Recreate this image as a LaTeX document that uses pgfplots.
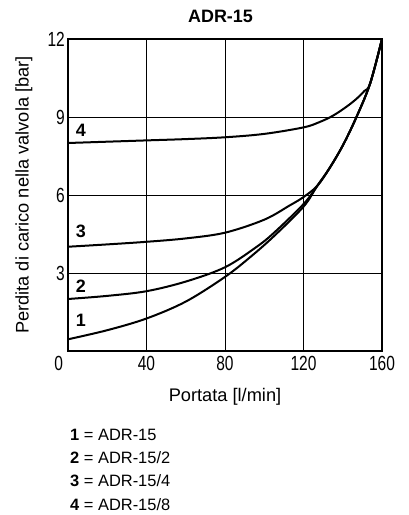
\documentclass[border=0pt]{standalone}
\usepackage{fontspec}
\setmainfont{Liberation Sans}
\newfontfamily\tickfont[FakeStretch=0.76]{Liberation Sans}
\newcommand\tk[1]{{\tickfont\fontsize{20.5}{20.5}\selectfont #1}}
\usepackage{pgfplots}
\pgfplotsset{compat=1.18}
\begin{document}
\begin{tikzpicture}
\begin{axis}[
  name=ax,
  scale only axis,
  width=314bp, height=312bp,
  xmin=0, xmax=160, ymin=0, ymax=12,
  xtick={0,40,80,120,160},
  xticklabels={\makebox[0pt][r]{\tk{0}\hspace*{5bp}},\tk{40},\tk{80},\tk{120},\tk{160}},
  ytick={3,6,9,12},
  yticklabels={\tk{3},\tk{6},\tk{9},\tk{12}},
  major tick length=0pt,
  grid=major,
  major grid style={black, line width=0.8bp},
  axis line style={black, line width=1.3bp},
  /pgf/number format/assume math mode=true,
  xticklabel style={inner sep=2bp, yshift=-3bp},
  yticklabel style={inner sep=2bp, xshift=-1bp},
  xlabel={Portata [l/min]},
  ylabel={Perdita di carico nella valvola [bar]},
  label style={font=\fontsize{18.3}{20}\selectfont},
  xlabel style={at={(axis description cs:0.5,0)}, anchor=center, yshift=-46bp},
  ylabel style={at={(axis description cs:0,0.5)}, anchor=center, rotate=0, yshift=44bp},
  clip=false,
  cycle list={{black}},
  every axis plot/.append style={black, line width=2bp, smooth, tension=0.55, no markers},
]
% Curve 1 = ADR-15
\addplot coordinates {(0,0.45) (20,0.8) (40,1.25) (60,1.9) (80,2.85) (93,3.62) (105,4.42) (120,5.55) (127,6.35) (133,7.0) (140,7.9) (147,9.0) (154,10.3) (160,12)};
% Curve 2 = ADR-15/2
\addplot coordinates {(0,2.0) (20,2.12) (40,2.3) (60,2.67) (80,3.22) (96,4.0) (105,4.55) (120,5.65) (127,6.35) (133,7.0) (140,7.9) (147,9.0) (154,10.3) (160,12)};
% Curve 3 = ADR-15/4
\addplot coordinates {(0,4.01) (20,4.1) (40,4.2) (60,4.33) (80,4.55) (100,5.05) (113,5.6) (120,5.92) (127,6.35) (133,7.0) (140,7.9) (147,9.0) (154,10.3) (160,12)};
% Curve 4 = ADR-15/8
\addplot coordinates {(0,8.0) (20,8.05) (40,8.1) (60,8.15) (80,8.22) (100,8.35) (120,8.6) (128,8.8) (135,9.05) (142,9.4) (147,9.7) (151,10.0) (154,10.3) (160,12)};
\node[font=\bfseries\fontsize{18}{18}\selectfont] at (axis cs:6.6,8.5) {4};
\node[font=\bfseries\fontsize{18}{18}\selectfont] at (axis cs:6.6,4.62) {3};
\node[font=\bfseries\fontsize{18}{18}\selectfont] at (axis cs:6.6,2.51) {2};
\node[font=\bfseries\fontsize{18}{18}\selectfont] at (axis cs:6.6,1.19) {1};
\end{axis}
\node[font=\bfseries\fontsize{18}{18}\selectfont] at ([shift={(152.5bp,335bp)}]ax.south west) {ADR-15};
\node[anchor=north west, inner sep=0pt, align=left, font=\fontsize{16.5}{23.3}\selectfont] at ([shift={(2bp,-78bp)}]ax.south west) {\textbf{1} = ADR-15\\\textbf{2} = ADR-15/2\\\textbf{3} = ADR-15/4\\\textbf{4} = ADR-15/8};
\path ([shift={(-68bp,-164bp)}]ax.south west) rectangle ++(409bp,515bp);
\end{tikzpicture}
\end{document}
